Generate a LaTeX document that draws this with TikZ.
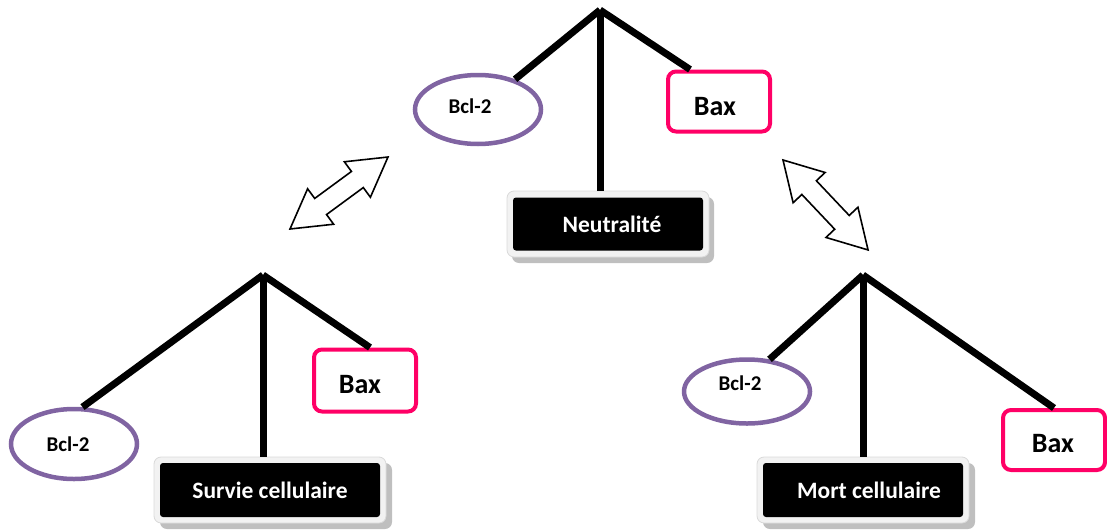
\documentclass[tikz,border=0pt]{standalone}
\usepackage{fontspec}
\setmainfont{Carlito}
\usetikzlibrary{shapes.geometric}
\definecolor{bclcol}{HTML}{8064A2}
\definecolor{baxcol}{HTML}{FF0066}
\definecolor{framefill}{HTML}{F2F2F2}
\definecolor{frameline}{HTML}{D9D9D9}
\definecolor{shadowcol}{HTML}{BFBFBF}
\begin{document}
\begin{tikzpicture}[x=1pt,y=-1pt,
  link/.style={line width=7pt},
  bcl/.style={ellipse, draw=bclcol, line width=4.5pt, fill=white, inner sep=0pt,
    minimum width=126pt, minimum height=69pt},
  bcltext/.style={inner sep=0pt, font=\bfseries\fontsize{21}{24}\selectfont},
  bax/.style={rectangle, rounded corners=8pt, draw=baxcol, line width=4pt, fill=white, inner sep=0pt,
    minimum width=102pt, minimum height=60pt},
  baxtext/.style={inner sep=0pt, font=\bfseries\fontsize{28}{30}\selectfont},
  framebox/.style={rectangle, rounded corners=7pt, fill=framefill, draw=frameline, line width=0.8pt,
    inner sep=0pt, minimum height=66pt},
  shadowbox/.style={rectangle, rounded corners=7pt, fill=shadowcol, inner sep=0pt, minimum height=66pt},
  outcome/.style={rectangle, rounded corners=3pt, fill=black, inner sep=0pt, minimum height=54pt},
  outtext/.style={inner sep=0pt, text=white, font=\bfseries\fontsize{23.5}{26}\selectfont},
  dblarrow/.style={draw=black, line width=1.6pt, fill=white, line join=miter}]
\useasboundingbox (0,0) rectangle (1107,530);

% apex points
\coordinate (apexT) at (600,10);
\coordinate (apexL) at (263,275);
\coordinate (apexR) at (863,275);

% top tree
\node[shadowbox, minimum width=202pt] at (613,230) {};
\node[framebox, minimum width=202pt] (neutF) at (608,224) {};
\node[outcome, minimum width=190pt, minimum height=53pt] (neut) at (608,224) {};
\node[outtext] (neutTx) at ([xshift=4pt]neut.center) {Neutralité};
\node[bcl] (bclT) at (478,109.5) {};
\node[bcltext] (bclTtx) at ([xshift=-8pt,yshift=3pt]bclT.center) {Bcl-2};
\node[bax] (baxT) at (719,101.5) {};
\node[baxtext] (baxTtx) at ([xshift=-4pt,yshift=-5pt]baxT.center) {Bax};
\draw[link] (apexT) -- (bclT);
\draw[link] (apexT) -- ([xshift=-29pt]baxT.north);
\draw[link] (apexT) -- (apexT |- neutF.north);

% left tree
\node[shadowbox, minimum width=232pt] at (276,496) {};
\node[framebox, minimum width=232pt] (survF) at (270,490) {};
\node[outcome, minimum width=220pt] (surv) at (270,490) {};
\node[outtext] (survTx) at (surv.center) {Survie cellulaire};
\node[bcl, minimum height=70pt] (bclL) at (74,444) {};
\node[bcltext] (bclLtx) at ([xshift=-6pt]bclL.center) {Bcl-2};
\node[bax, minimum height=62pt] (baxL) at (365,380.5) {};
\node[baxtext] (baxLtx) at ([xshift=-5pt,yshift=-4pt]baxL.center) {Bax};
\draw[link] (apexL) -- (bclL.77);
\draw[link] (apexL) -- ([xshift=5pt]baxL.north);
\draw[link] (apexL) -- (apexL |- survF.north);

% right tree
\node[shadowbox, minimum width=212pt] at (869,496) {};
\node[framebox, minimum width=212pt] (mortF) at (863,490) {};
\node[outcome, minimum width=200pt] (mort) at (863,490) {};
\node[outtext] (mortTx) at ([xshift=6pt]mort.center) {Mort cellulaire};
\node[bcl, minimum height=64pt] (bclR) at (747,391.5) {};
\node[bcltext] (bclRtx) at ([xshift=-7pt,yshift=8pt]bclR.center) {Bcl-2};
\node[bax] (baxR) at (1054,440) {};
\node[baxtext] (baxRtx) at ([xshift=-1pt,yshift=-4pt]baxR.center) {Bax};
\draw[link] (apexR) -- (bclR.55);
\draw[link] (apexR) -- (baxR.north);
\draw[link] (apexR) -- (apexR |- mortF.north);

% double arrows
\coordinate (arrL1) at (290,229);
\coordinate (arrL2) at (388,157);
\coordinate (arrR1) at (783,160);
\coordinate (arrR2) at (868,250);
\begin{scope}[shift={(arrL1)}, x=1pt, y=1pt, rotate=36.3]
  \draw[dblarrow] (0,0) -- (38,22) -- (38,10) -- (83.6,10) -- (83.6,22) -- (121.6,0)
    -- (83.6,-22) -- (83.6,-10) -- (38,-10) -- (38,-22) -- cycle;
\end{scope}
\begin{scope}[shift={(arrR1)}, x=1pt, y=1pt, rotate=-46.6]
  \draw[dblarrow] (0,0) -- (38,22) -- (38,10) -- (85.8,10) -- (85.8,22) -- (123.8,0)
    -- (85.8,-22) -- (85.8,-10) -- (38,-10) -- (38,-22) -- cycle;
\end{scope}
\end{tikzpicture}
\end{document}
